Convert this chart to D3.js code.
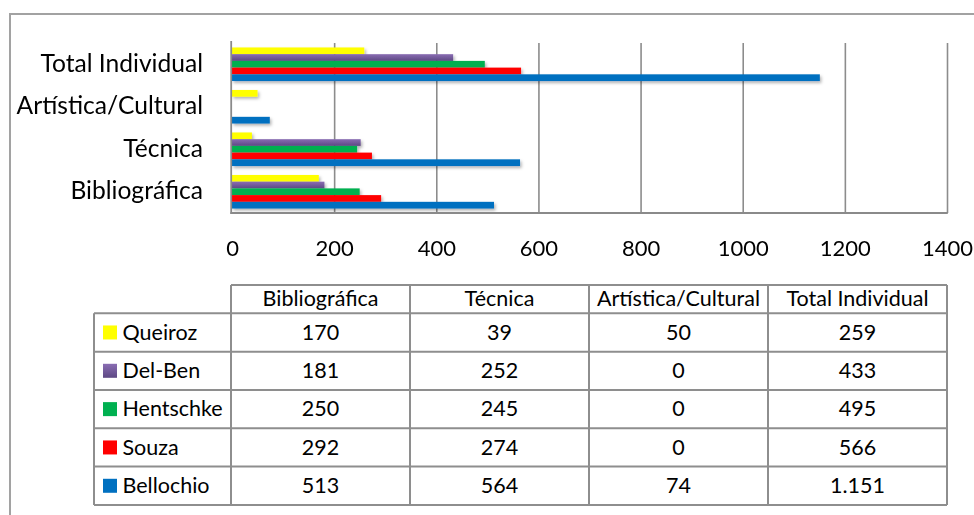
<!DOCTYPE html>
<html>
<head>
<meta charset="utf-8">
<script src="https://cdn.jsdelivr.net/npm/d3@7"></script>
<style>
  html, body { margin: 0; padding: 0; background: #fff; }
  svg { display: block; }
  text { font-family: Lato, "Open Sans", sans-serif; fill: #000; }
</style>
</head>
<body>
<svg id="chart" width="974" height="515"></svg>
<script>
// Production categories, drawn bottom-to-top in the bar chart
const categories = ["Bibliográfica", "Técnica", "Artística/Cultural", "Total Individual"];
// Researchers (series), top bar of each group first
const researchers = ["Queiroz", "Del-Ben", "Hentschke", "Souza", "Bellochio"];
// Values per researcher, in the order of `categories`
const queiroz   = [170, 39, 50, 259];
const delBen    = [181, 252, 0, 433];
const hentschke = [250, 245, 0, 495];
const souza     = [292, 274, 0, 566];
const bellochio = [513, 564, 74, 1151];
const seriesValues = [queiroz, delBen, hentschke, souza, bellochio];
// Printed table values (Brazilian thousands separator)
const tableLabels = [
  ["170", "39", "50", "259"],
  ["181", "252", "0", "433"],
  ["250", "245", "0", "495"],
  ["292", "274", "0", "566"],
  ["513", "564", "74", "1.151"]
];
const xTicks = [0, 200, 400, 600, 800, 1000, 1200, 1400];
const colors = ["#FFFF00", "url(#purpleGrad)", "#00B050", "#FF0000", "#0070C0"];

const svg = d3.select("#chart");
const defs = svg.append("defs");
const pg = defs.append("linearGradient").attr("id", "purpleGrad")
  .attr("x1", 0).attr("y1", 0).attr("x2", 0).attr("y2", 1);
pg.append("stop").attr("offset", "0%").attr("stop-color", "#8a6db3");
pg.append("stop").attr("offset", "100%").attr("stop-color", "#5d4883");
const sh = defs.append("filter").attr("id", "barShadow")
  .attr("x", "-5%").attr("y", "-30%").attr("width", "115%").attr("height", "190%");
sh.append("feDropShadow").attr("dx", 1.5).attr("dy", 2).attr("stdDeviation", 1.4)
  .attr("flood-color", "#000").attr("flood-opacity", 0.3);

// Outer frame (top and left edges visible)
svg.append("path")
  .attr("d", "M10,515 L10,14 L974,14")
  .attr("fill", "none").attr("stroke", "#a2a2a2").attr("stroke-width", 2);

// Plot scales
const plotTop = 43, plotBottom = 213;
const x = d3.scaleLinear().domain([0, 1400]).range([232, 947]);
const yCat = d3.scaleBand()
  .domain(categories.slice().reverse())
  .range([plotTop, plotBottom])
  .paddingInner(0.21).paddingOuter(0.105);
const ySer = d3.scaleBand().domain(researchers).range([0, yCat.bandwidth()]);

// Vertical gridlines
const grid = svg.append("g")
  .attr("transform", `translate(0,${plotBottom})`)
  .call(d3.axisBottom(x).tickValues(xTicks.slice(1)).tickSize(-(plotBottom - plotTop)).tickFormat(""));
grid.select(".domain").remove();
grid.selectAll("line").attr("stroke", "#8c8c8c").attr("stroke-width", 1.6);

// Bars
const groups = svg.append("g").attr("filter", "url(#barShadow)")
  .selectAll("g.cat")
  .data(categories)
  .join("g")
  .attr("class", "cat")
  .attr("transform", d => `translate(0,${yCat(d)})`);

groups.selectAll("rect")
  .data((c, ci) => researchers.map((r, ri) => ({ r, ri, v: seriesValues[ri][ci] })))
  .join("rect")
  .attr("x", x(0))
  .attr("y", d => ySer(d.r))
  .attr("height", ySer.bandwidth())
  .attr("width", d => x(d.v) - x(0))
  .attr("fill", d => colors[d.ri]);

// Axis lines
svg.append("line").attr("x1", x(0) - 0.8).attr("x2", x(0) - 0.8)
  .attr("y1", plotTop - 2).attr("y2", plotBottom + 1)
  .attr("stroke", "#8a8a8a").attr("stroke-width", 1.8);
svg.append("line").attr("x1", x(0) - 1.6).attr("x2", x(1400) + 0.8)
  .attr("y1", plotBottom).attr("y2", plotBottom)
  .attr("stroke", "#8a8a8a").attr("stroke-width", 1.8);

// X tick labels
const xAxis = svg.append("g")
  .attr("transform", `translate(0,${plotBottom})`)
  .call(d3.axisBottom(x).tickValues(xTicks).tickSize(0).tickPadding(0).tickFormat(d3.format("d")));
xAxis.select(".domain").remove();
xAxis.selectAll("text")
  .attr("dy", null).attr("y", 43)
  .style("font-family", "Lato, sans-serif")
  .style("font-size", "22px")
  .attr("fill", "#000");

// Category labels
const yAxis = svg.append("g")
  .attr("transform", `translate(${x(0)},0)`)
  .call(d3.axisLeft(yCat).tickSize(0).tickPadding(29));
yAxis.select(".domain").remove();
yAxis.selectAll("text")
  .attr("dy", "0.3em")
  .style("font-family", "Lato, sans-serif")
  .style("font-size", "24.6px")
  .attr("fill", "#000");

// Data table
const colEdges = [94, 231, 410, 589, 768, 947];
const headerTop = 285, headerBottom = 313.3, rowH = 38.33;
const tableBottom = headerBottom + rowH * researchers.length;
const tbl = svg.append("g");
const lineStyle = sel => sel.attr("stroke", "#8e8e8e").attr("stroke-width", 2).attr("fill", "none");

// Header row border (only above data columns)
tbl.append("line").attr("x1", colEdges[1]).attr("x2", colEdges[5])
  .attr("y1", headerTop).attr("y2", headerTop).call(lineStyle);
// Horizontal row borders
d3.range(researchers.length + 1).forEach(i => {
  const yy = headerBottom + i * rowH;
  tbl.append("line").attr("x1", colEdges[0]).attr("x2", colEdges[5])
    .attr("y1", yy).attr("y2", yy).call(lineStyle);
});
// Vertical borders
colEdges.forEach((cx, i) => {
  tbl.append("line").attr("x1", cx).attr("x2", cx)
    .attr("y1", i === 0 ? headerBottom : headerTop).attr("y2", tableBottom)
    .call(lineStyle);
});

// Header texts
tbl.selectAll("text.hdr")
  .data(categories)
  .join("text")
  .attr("class", "hdr")
  .attr("x", (d, i) => (colEdges[i + 1] + colEdges[i + 2]) / 2)
  .attr("y", (headerTop + headerBottom) / 2)
  .attr("dy", "0.34em")
  .attr("text-anchor", "middle")
  .style("font-size", "21.5px")
  .text(d => d);

// Row labels with swatches
const rows = tbl.selectAll("g.row")
  .data(researchers)
  .join("g")
  .attr("class", "row")
  .attr("transform", (d, i) => `translate(0,${headerBottom + i * rowH})`);

rows.append("rect")
  .attr("x", 103).attr("y", rowH / 2 - 7)
  .attr("width", 14).attr("height", 14)
  .attr("fill", (d, i) => colors[i]);

rows.append("text")
  .attr("x", 122.5).attr("y", rowH / 2).attr("dy", "0.34em")
  .style("font-size", "21.5px")
  .text(d => d);

rows.selectAll("text.val")
  .data((d, i) => tableLabels[i])
  .join("text")
  .attr("class", "val")
  .attr("x", (d, j) => (colEdges[j + 1] + colEdges[j + 2]) / 2)
  .attr("y", rowH / 2).attr("dy", "0.34em")
  .attr("text-anchor", "middle")
  .style("font-size", "21.5px")
  .text(d => d);
</script>
</body>
</html>
